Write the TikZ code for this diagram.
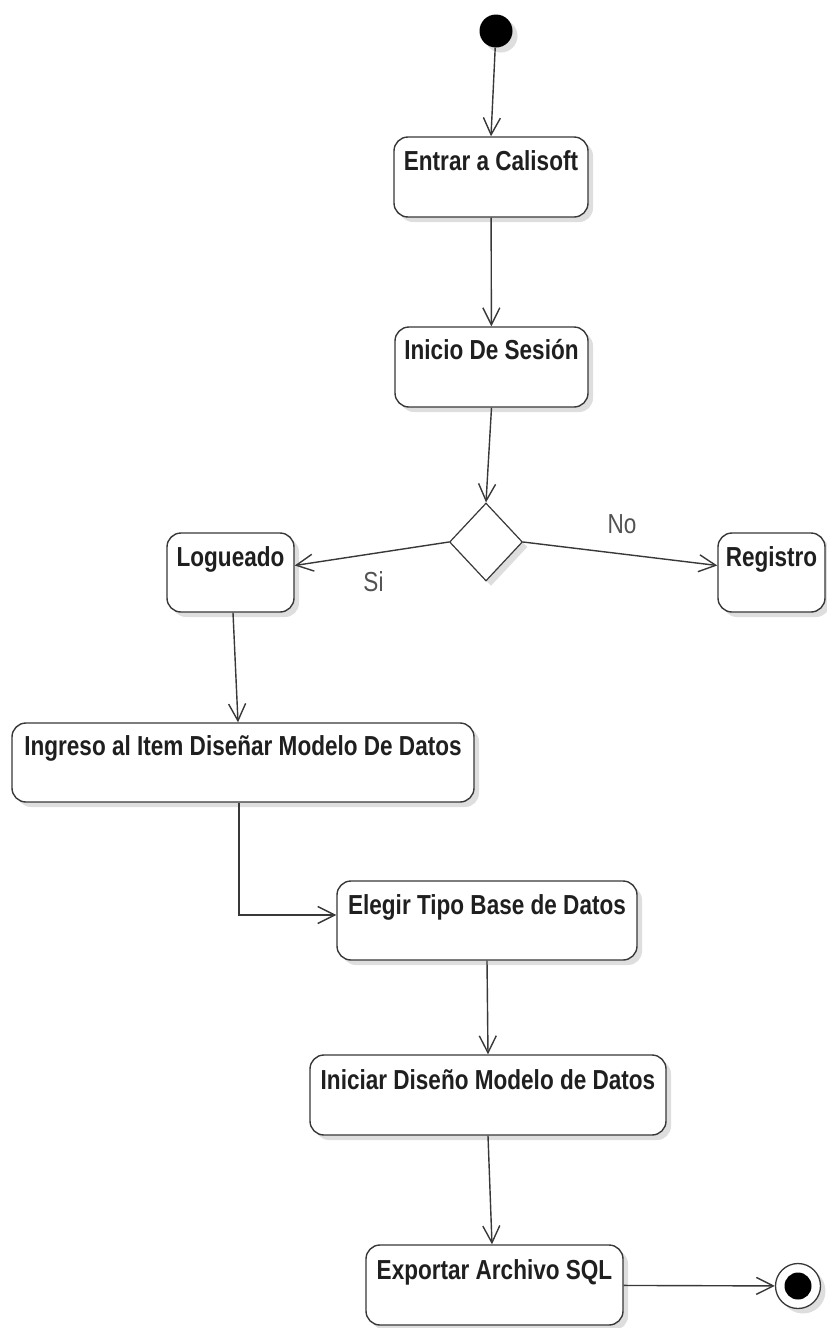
\documentclass[tikz,border=0pt]{standalone}
\usepackage{fontspec}
\setmainfont{Liberation Sans}
\newfontfamily\narrowfont[FakeStretch=0.82]{Liberation Sans}
\usetikzlibrary{shapes.geometric,arrows.meta,shadows,calc}
\tikzset{
  shad/.style={drop shadow={shadow xshift=5pt,shadow yshift=-5pt,fill=black,opacity=0.13}},
  act/.style={draw=black!78,line width=1.4pt,rounded corners=14pt,fill=white,inner sep=0pt,shad},
  acttext/.style={font=\narrowfont\bfseries\fontsize{27.5}{33}\selectfont,text=black!88,anchor=base,inner sep=0pt},
  guard/.style={font=\narrowfont\fontsize{27.5}{33}\selectfont,text=black!68,anchor=base,inner sep=0pt},
  flow/.style={draw=black!78,line width=1.4pt,-{Straight Barb[length=17pt,width=17pt]}},
  decision/.style={diamond,draw=black!78,line width=1.2pt,fill=white,inner sep=0pt,shad},
}
\begin{document}
\begin{tikzpicture}[x=1pt,y=-1pt]
\useasboundingbox (0,0) rectangle (827,1328);

% initial node
\node[circle,fill=black,inner sep=0pt,minimum size=33pt,shad] (start) at (496,31) {};

% activities
\node[act,minimum width=194pt,minimum height=80pt] (entrar) at (491,177) {};
\node[acttext] (entrar-t) at ($(entrar.north)+(0,34)$) {Entrar a Calisoft};

\node[act,minimum width=193pt,minimum height=80pt] (inicio) at (491.5,367) {};
\node[acttext] (inicio-t) at ($(inicio.north)+(0,33)$) {Inicio De Sesión};

\node[decision,minimum width=73pt,minimum height=78pt] (dec) at (486,542) {};

\node[act,minimum width=127pt,minimum height=79pt] (log) at (230.5,572.5) {};
\node[acttext] (log-t) at ($(log.north)+(0,34)$) {Logueado};

\node[act,minimum width=107pt,minimum height=79pt] (reg) at (771.5,572.5) {};
\node[acttext] (reg-t) at ($(reg.north)+(0,34)$) {Registro};

\node[act,minimum width=462pt,minimum height=79pt] (ingreso) at (243,762.5) {};
\node[acttext] (ingreso-t) at ($(ingreso.north)+(0,33)$) {Ingreso al Item Diseñar Modelo De Datos};

\node[act,minimum width=300pt,minimum height=79pt] (elegir) at (487,920.5) {};
\node[acttext] (elegir-t) at ($(elegir.north)+(0,34)$) {Elegir Tipo Base de Datos};

\node[act,minimum width=356pt,minimum height=80pt] (iniciar) at (488,1095) {};
\node[acttext] (iniciar-t) at ($(iniciar.north)+(0,35)$) {Iniciar Diseño Modelo de Datos};

\node[act,minimum width=257pt,minimum height=80pt] (exportar) at (494.5,1285) {};
\node[acttext] (exportar-t) at ($(exportar.north)+(0,35)$) {Exportar Archivo SQL};

% final node
\node[circle,draw=black!78,line width=1.3pt,fill=white,inner sep=0pt,minimum size=45pt,shad] (endo) at (798,1286) {};
\node[circle,fill=black,inner sep=0pt,minimum size=27pt] (endi) at (endo) {};

% guards
\node[guard] (si) at (373.5,591) {Si};
\node[guard] (no) at (622,533) {No};

% flows
\draw[flow] (start) -- (entrar.north);
\draw[flow] (entrar) -- (inicio);
\draw[flow] (inicio.south) -- (dec.north);
\draw[flow] (dec.west) -- ([yshift=7pt]log.east);
\draw[flow] (dec.east) -- ([yshift=7pt]reg.west);
\draw[flow] ([xshift=2.5pt]log.south) -- ([xshift=-5pt]ingreso.north);
\draw[flow] ([xshift=-4pt]ingreso.south) |- ([yshift=5.5pt]elegir.west);
\draw[flow] (elegir.south) -- (iniciar.north);
\draw[flow] (iniciar.south) -- ([xshift=-2.5pt]exportar.north);
\draw[flow] (exportar) -- (endo);
\end{tikzpicture}
\end{document}
